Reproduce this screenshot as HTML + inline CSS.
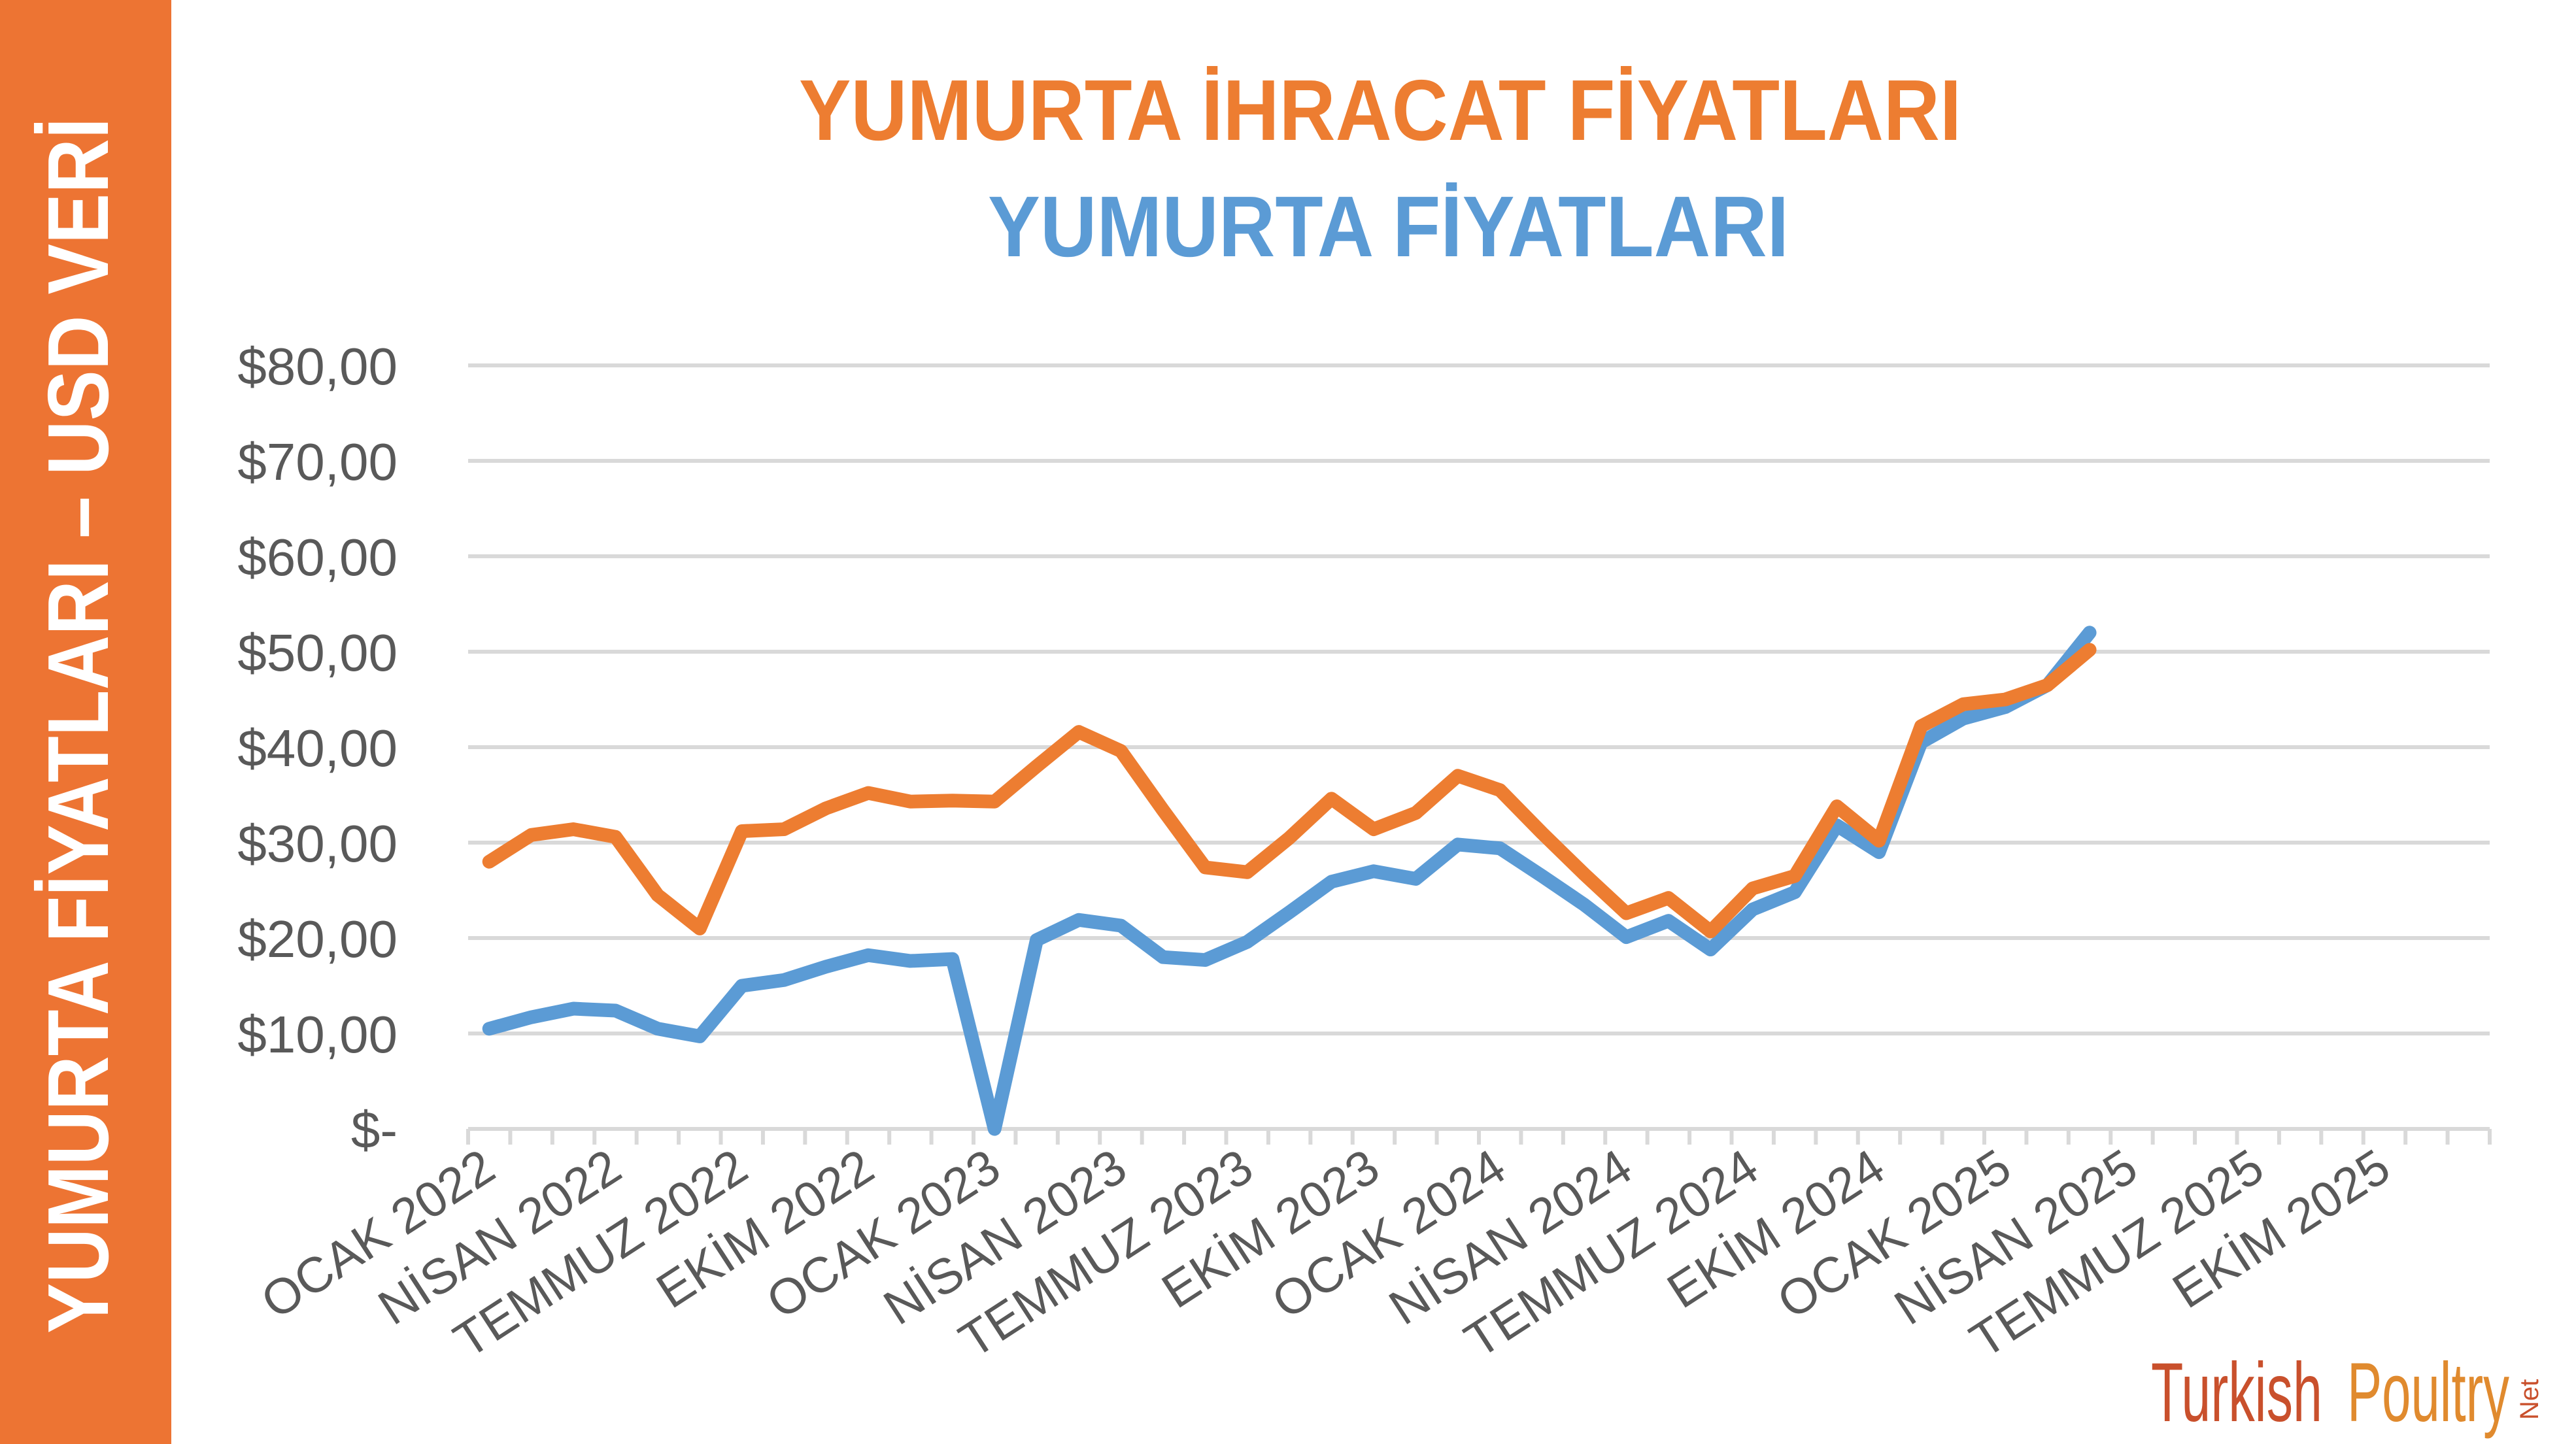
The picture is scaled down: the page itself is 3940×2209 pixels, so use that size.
<!DOCTYPE html>
<html><head><meta charset="utf-8"><style>
html,body{margin:0;padding:0;background:#fff;}
svg{display:block;}
</style></head><body>
<svg id="chart" width="3940" height="2209" viewBox="0 0 3940 2209" xmlns="http://www.w3.org/2000/svg" font-family="'Liberation Sans', sans-serif">
<rect x="0" y="0" width="3940" height="2209" fill="#fff"/>
<rect x="0" y="0" width="262" height="2209" fill="#ED7433"/>
<text transform="translate(165,2040) rotate(-90)" font-size="132" font-weight="bold" fill="#fff" textLength="1860" lengthAdjust="spacingAndGlyphs">YUMURTA FİYATLARI – USD VERİ</text>
<text x="1222" y="214" font-size="132" font-weight="bold" fill="#ED7D31" textLength="1778" lengthAdjust="spacingAndGlyphs">YUMURTA İHRACAT FİYATLARI</text>
<text x="1511" y="392" font-size="132" font-weight="bold" fill="#5B9BD5" textLength="1225" lengthAdjust="spacingAndGlyphs">YUMURTA FİYATLARI</text>
<g id="grid"></g><g id="yticks"></g><g id="xaxis"></g><g id="series"></g>
<g>
<text x="3290" y="2174" font-size="128" fill="#C9502C" textLength="262" lengthAdjust="spacingAndGlyphs">Turkish</text>
<text x="3590" y="2174" font-size="128" fill="#E08A2E" textLength="248" lengthAdjust="spacingAndGlyphs">Poultry</text>
<text transform="translate(3882,2172) rotate(-90)" font-size="40" fill="#C9502C">Net</text>
</g>
</svg>
<script>
const categoriesCount = 48;
const yTicks = [0,10,20,30,40,50,60,70,80];
const yTickLabels = ["$-","$10,00","$20,00","$30,00","$40,00","$50,00","$60,00","$70,00","$80,00"];
const xLabels = ["OCAK 2022","NİSAN 2022","TEMMUZ 2022","EKİM 2022","OCAK 2023","NİSAN 2023","TEMMUZ 2023","EKİM 2023","OCAK 2024","NİSAN 2024","TEMMUZ 2024","EKİM 2024","OCAK 2025","NİSAN 2025","TEMMUZ 2025","EKİM 2025"];
const exportPrices = [28,30.8,31.4,30.6,24.5,21,31.2,31.4,33.6,35.2,34.3,34.4, 34.3,38,41.6,39.6,33.4,27.4,26.9,30.5,34.6,31.4,33.1,37, 35.5,31,26.7,22.6,24.2,20.7,25.2,26.5,33.8,30.2,42.2,44.5,45,46.5,50.2];
const eggPrices = [10.5,11.7,12.6,12.4,10.5,9.7,15,15.6,17,18.2,17.6,17.8, 0,19.8,21.9,21.3,18,17.7,19.6,22.7,25.9,27,26.2,29.8, 29.4,26.5,23.5,20.1,21.8,18.8,23,24.8,31.8,29,40.5,43,44.2,46.5,52];

const NS="http://www.w3.org/2000/svg";
const L=716,R=3808,T=559,B=1727;
const step=(R-L)/categoriesCount;
const xs=i=>L+step*(i+0.5);
const ys=v=>B-(v/80)*(B-T);
function mk(tag,attrs,parent){const e=document.createElementNS(NS,tag);for(const k in attrs)e.setAttribute(k,attrs[k]);parent.appendChild(e);return e;}
const grid=document.getElementById('grid'),yt=document.getElementById('yticks'),xa=document.getElementById('xaxis'),se=document.getElementById('series');
yTicks.forEach((v,i)=>{
  const ln=mk('line',{x1:L,x2:R,y1:ys(v),y2:ys(v),stroke:'#D9D9D9','stroke-width':6},grid);
  
  
  const t=mk('text',{x:608,y:ys(v)+29,'text-anchor':'end','font-size':80,fill:'#595959'},yt);
  t.textContent=yTickLabels[i];
  
  
});
for(let i=0;i<=categoriesCount;i++){
  const tk=mk('line',{x1:L+step*i,x2:L+step*i,y1:B,y2:B+24,stroke:'#D9D9D9','stroke-width':6},xa);
  
  
}
xLabels.forEach((s,j)=>{
  const x=xs(j*3)+14,y=B+72;
  const t=mk('text',{transform:`translate(${x},${y}) rotate(-33)`,'text-anchor':'end','font-size':76,fill:'#595959'},xa);
  t.textContent=s;
  
  
});
function line(data,color,name){
  const p=mk('polyline',{points:data.map((v,i)=>xs(i)+','+ys(v)).join(' '),fill:'none',stroke:color,'stroke-width':21,'stroke-linejoin':'round','stroke-linecap':'round'},se);
  
  
}
line(eggPrices,'#5B9BD5','egg-price-line');
line(exportPrices,'#ED7D31','export-price-line');
</script>
</body></html>
